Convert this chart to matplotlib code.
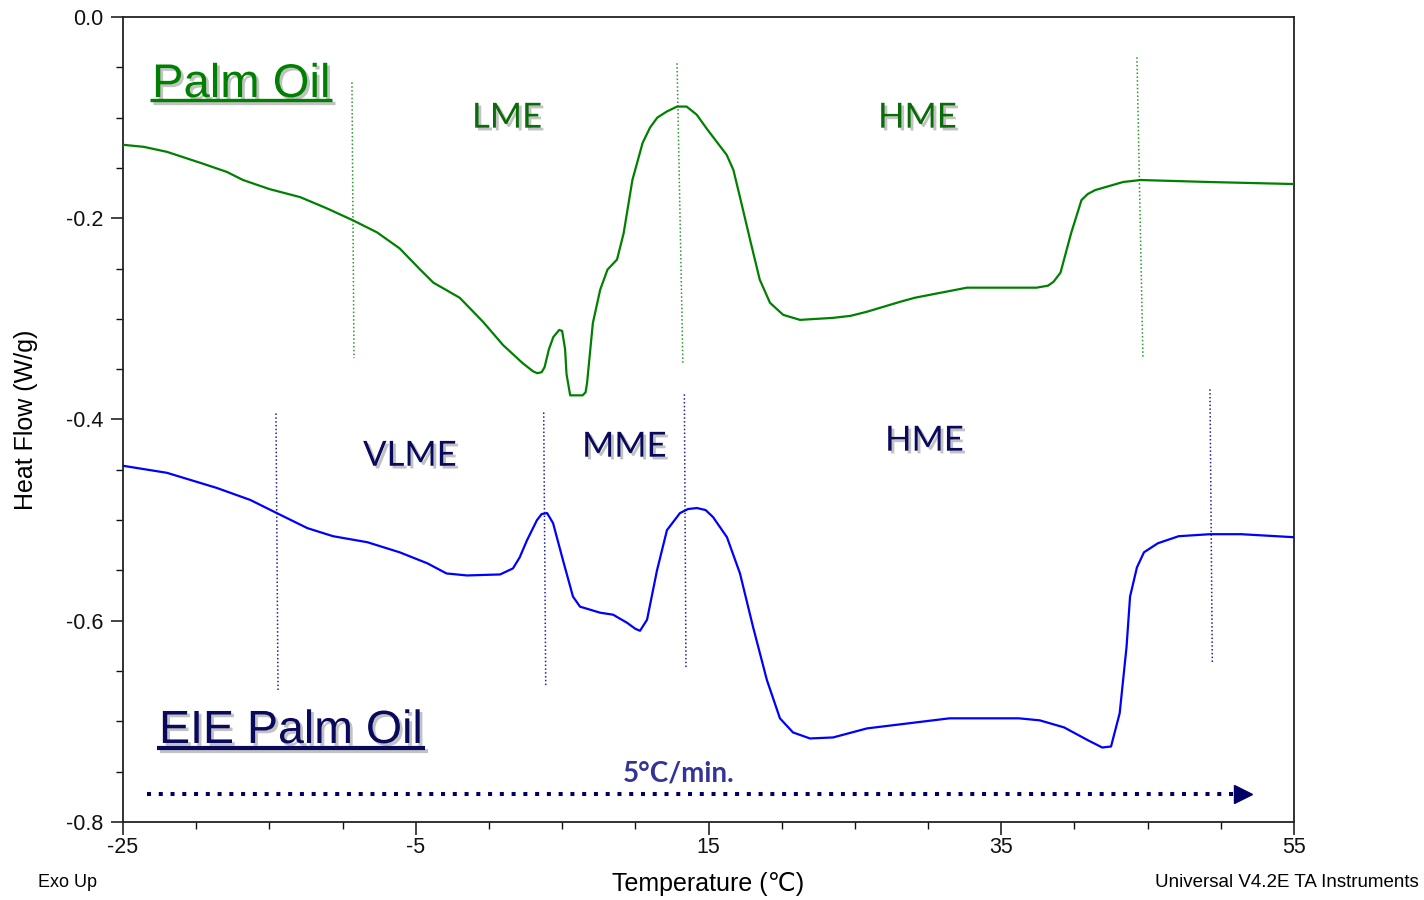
import matplotlib
matplotlib.use("Agg")
import matplotlib.pyplot as plt
import matplotlib.patheffects as pe
from matplotlib.ticker import MultipleLocator

plt.rcParams["axes.unicode_minus"] = False

# Palm Oil DSC melting trace (Temperature in °C, Heat Flow in W/g)
palm_temp = [-25, -23.6, -22.0, -19.7, -17.9, -16.8, -15.0, -12.9, -11.1, -9.3,
             -7.65, -6.1, -4.7, -3.8, -2.0, -0.4, 0.96, 2.3, 3.0, 3.3, 3.6, 3.8,
             4.1, 4.4, 4.8, 5.0, 5.2, 5.3, 5.55, 6.4, 6.6, 6.7, 7.1, 7.6, 8.1,
             8.75, 9.2, 9.8, 10.5, 11.0, 11.5, 12.14, 12.85, 13.5, 14.19, 14.88,
             15.56, 16.24, 16.7, 17.15, 17.85, 18.5, 19.2, 20.1, 21.25, 23.5,
             24.7, 25.8, 28.1, 29.1, 32.65, 37.4, 38.2, 38.58, 39.05, 39.77,
             40.48, 40.9, 41.42, 43.32, 44.51, 49.26, 55]
palm_flow = [-0.127, -0.129, -0.134, -0.145, -0.154, -0.162, -0.171, -0.179,
             -0.190, -0.202, -0.214, -0.230, -0.251, -0.264, -0.279, -0.303,
             -0.326, -0.344, -0.352, -0.354, -0.353, -0.348, -0.330, -0.318,
             -0.311, -0.312, -0.330, -0.355, -0.376, -0.376, -0.373, -0.364,
             -0.304, -0.271, -0.251, -0.241, -0.215, -0.162, -0.125, -0.110,
             -0.100, -0.094, -0.089, -0.089, -0.097, -0.111, -0.124, -0.137,
             -0.152, -0.179, -0.222, -0.261, -0.284, -0.296, -0.301, -0.299,
             -0.297, -0.293, -0.283, -0.279, -0.269, -0.269, -0.267, -0.263,
             -0.254, -0.215, -0.182, -0.176, -0.172, -0.164, -0.162, -0.164,
             -0.166]

# Enzymatically interesterified (EIE) palm oil trace
eie_temp = [-25, -22.0, -18.6, -16.3, -14.5, -12.4, -10.65, -8.3, -6.1, -4.2,
            -2.9, -1.5, 0.76, 1.64, 2.1, 2.6, 3.28, 3.6, 3.97, 4.38, 5.06,
            5.74, 6.22, 7.59, 8.48, 9.43, 10.0, 10.32, 10.8, 11.48, 12.16,
            13.05, 13.6, 14.21, 14.8, 15.31, 16.26, 17.15, 18.04, 18.99, 19.88,
            20.77, 21.93, 23.51, 25.83, 28.08, 31.46, 36.21, 37.63, 39.29,
            40.95, 41.9, 42.5, 43.09, 43.56, 43.8, 44.27, 44.75, 45.7, 47.12,
            49.26, 51.39, 55]
eie_flow = [-0.446, -0.453, -0.468, -0.480, -0.493, -0.508, -0.516, -0.522,
            -0.532, -0.543, -0.553, -0.555, -0.554, -0.548, -0.537, -0.520,
            -0.500, -0.494, -0.493, -0.503, -0.540, -0.576, -0.586, -0.592,
            -0.594, -0.602, -0.608, -0.610, -0.599, -0.550, -0.510, -0.493,
            -0.489, -0.488, -0.490, -0.497, -0.517, -0.553, -0.606, -0.659,
            -0.697, -0.711, -0.717, -0.716, -0.707, -0.703, -0.697, -0.697,
            -0.699, -0.706, -0.719, -0.726, -0.725, -0.692, -0.626, -0.576,
            -0.547, -0.532, -0.523, -0.516, -0.514, -0.514, -0.517]

# Region boundaries (start/end temperature and vertical extent of each marker line)
palm_bounds_x = [(-9.36, -9.22), (12.85, 13.25), (44.27, 44.68)]
palm_bounds_y = [(-0.065, -0.339), (-0.046, -0.345), (-0.040, -0.338)]
eie_bounds_x = [(-14.55, -14.41), (3.74, 3.88), (13.35, 13.46), (49.26, 49.42)]
eie_bounds_y = [(-0.394, -0.671), (-0.393, -0.664), (-0.375, -0.647), (-0.370, -0.642)]

palm_regions = ["LME", "HME"]
eie_regions = ["VLME", "MME", "HME"]

x_ticks = [-25, -5, 15, 35, 55]
y_ticks = [0.0, -0.2, -0.4, -0.6, -0.8]

ARIAL = ["Liberation Sans", "DejaVu Sans"]
CALIBRI = ["Lato", "DejaVu Sans"]

GREEN = "#008000"
DKGREEN = "#0b6b0b"
NAVY = "#0a0a5c"

fig = plt.figure(figsize=(14.24, 9.0), dpi=100)
ax = fig.add_axes([0.0864, 0.0867, 0.8223, 0.8944])

ax.plot(palm_temp, palm_flow, color=GREEN, lw=1.6, zorder=3)
ax.plot(eie_temp, eie_flow, color="#0000ff", lw=1.6, zorder=3)

for (x0, x1), (y0, y1) in zip(palm_bounds_x, palm_bounds_y):
    ax.plot([x0, x1], [y0, y1], color="#2a9a2a", lw=1.1, ls=(0, (1, 1.5)), zorder=2)
for (x0, x1), (y0, y1) in zip(eie_bounds_x, eie_bounds_y):
    ax.plot([x0, x1], [y0, y1], color="#222299", lw=1.1, ls=(0, (1, 1.5)), zorder=2)

ax.set_xlim(-25, 55)
ax.set_ylim(-0.8, 0.0)
ax.set_xticks(x_ticks)
ax.set_yticks(y_ticks)
ax.set_yticklabels([f"{v:.1f}" for v in y_ticks])
ax.xaxis.set_minor_locator(MultipleLocator(5))
ax.yaxis.set_minor_locator(MultipleLocator(0.05))
ax.tick_params(which="major", direction="out", length=9, width=1.1,
               labelsize=15.5, colors="#111111")
ax.tick_params(which="minor", direction="out", length=5, width=1.0, colors="#111111")
ax.tick_params(axis="x", which="major", pad=2)
ax.tick_params(axis="y", which="major", pad=5)
for lab in ax.get_xticklabels() + ax.get_yticklabels():
    lab.set_family(ARIAL)
for sp in ax.spines.values():
    sp.set_linewidth(1.3)
    sp.set_color("#222222")

ax.set_xlabel("Temperature (℃)", family=ARIAL, fontsize=18, labelpad=10)
ax.set_ylabel("Heat Flow (W/g)", family=ARIAL, fontsize=18, labelpad=20)

fig.text(0.027, 0.0144, "Exo Up", family=ARIAL, fontsize=13, va="baseline")
fig.text(0.996, 0.0144, "Universal V4.2E TA Instruments", family=ARIAL,
         fontsize=13.5, ha="right", va="baseline")

shadow = [pe.SimplePatchShadow(offset=(2, -2), shadow_rgbFace="#9a9a9a", alpha=0.6),
          pe.Normal()]

# Sample titles (underlined)
t_palm = ax.text(-23.02, -0.0795, "Palm Oil", family=ARIAL, fontsize=34,
                 color=GREEN, va="baseline", path_effects=shadow)
t_eie = ax.text(-22.54, -0.7215, "EIE Palm Oil", family=ARIAL, fontsize=33.5,
                color=NAVY, va="baseline", path_effects=shadow)

# Region labels
ax.text(-1.16, -0.110, palm_regions[0], family=CALIBRI, fontsize=25,
        color=DKGREEN, va="baseline", path_effects=shadow)
ax.text(26.58, -0.110, palm_regions[1], family=CALIBRI, fontsize=25,
        color=DKGREEN, va="baseline", path_effects=shadow)
ax.text(-8.60, -0.446, eie_regions[0], family=CALIBRI, fontsize=25,
        color=NAVY, va="baseline", path_effects=shadow)
ax.text(6.36, -0.437, eie_regions[1], family=CALIBRI, fontsize=25,
        color=NAVY, va="baseline", path_effects=shadow)
ax.text(27.06, -0.431, eie_regions[2], family=CALIBRI, fontsize=25,
        color=NAVY, va="baseline", path_effects=shadow)

# Heating rate arrow
ax.text(9.16, -0.760, "5°C/min.", family=CALIBRI, fontsize=20, weight="bold",
        color="#333399", va="baseline")
ax.plot([-23.36, 50.9], [-0.772, -0.772], color="#000066", lw=2.9,
        ls=(0, (1, 1.92)), solid_capstyle="butt", zorder=3)
ax.plot([51.55], [-0.772], marker=">", ms=12.5, color="#000066", mec="#000066", zorder=3)

# Underlines beneath the two sample titles
fig.canvas.draw()
renderer = fig.canvas.get_renderer()
inv = ax.transData.inverted()
for txt, col, gap_px, lw in [(t_palm, GREEN, 3, 2.4), (t_eie, NAVY, 5, 3.0)]:
    bb = txt.get_window_extent(renderer)
    (xa, _), (xb, _) = inv.transform([(bb.x0 - 2, 0), (bb.x1 + 2, 0)])
    _, yb = inv.transform((0, ax.transData.transform((0, txt.get_position()[1]))[1] - gap_px))
    ax.plot([xa, xb], [yb, yb], color=col, lw=lw, solid_capstyle="butt",
            path_effects=[pe.SimpleLineShadow(offset=(2, -2), shadow_color="#9a9a9a", alpha=0.6),
                          pe.Normal()], zorder=3)

fig.savefig("out.png", dpi=100)
